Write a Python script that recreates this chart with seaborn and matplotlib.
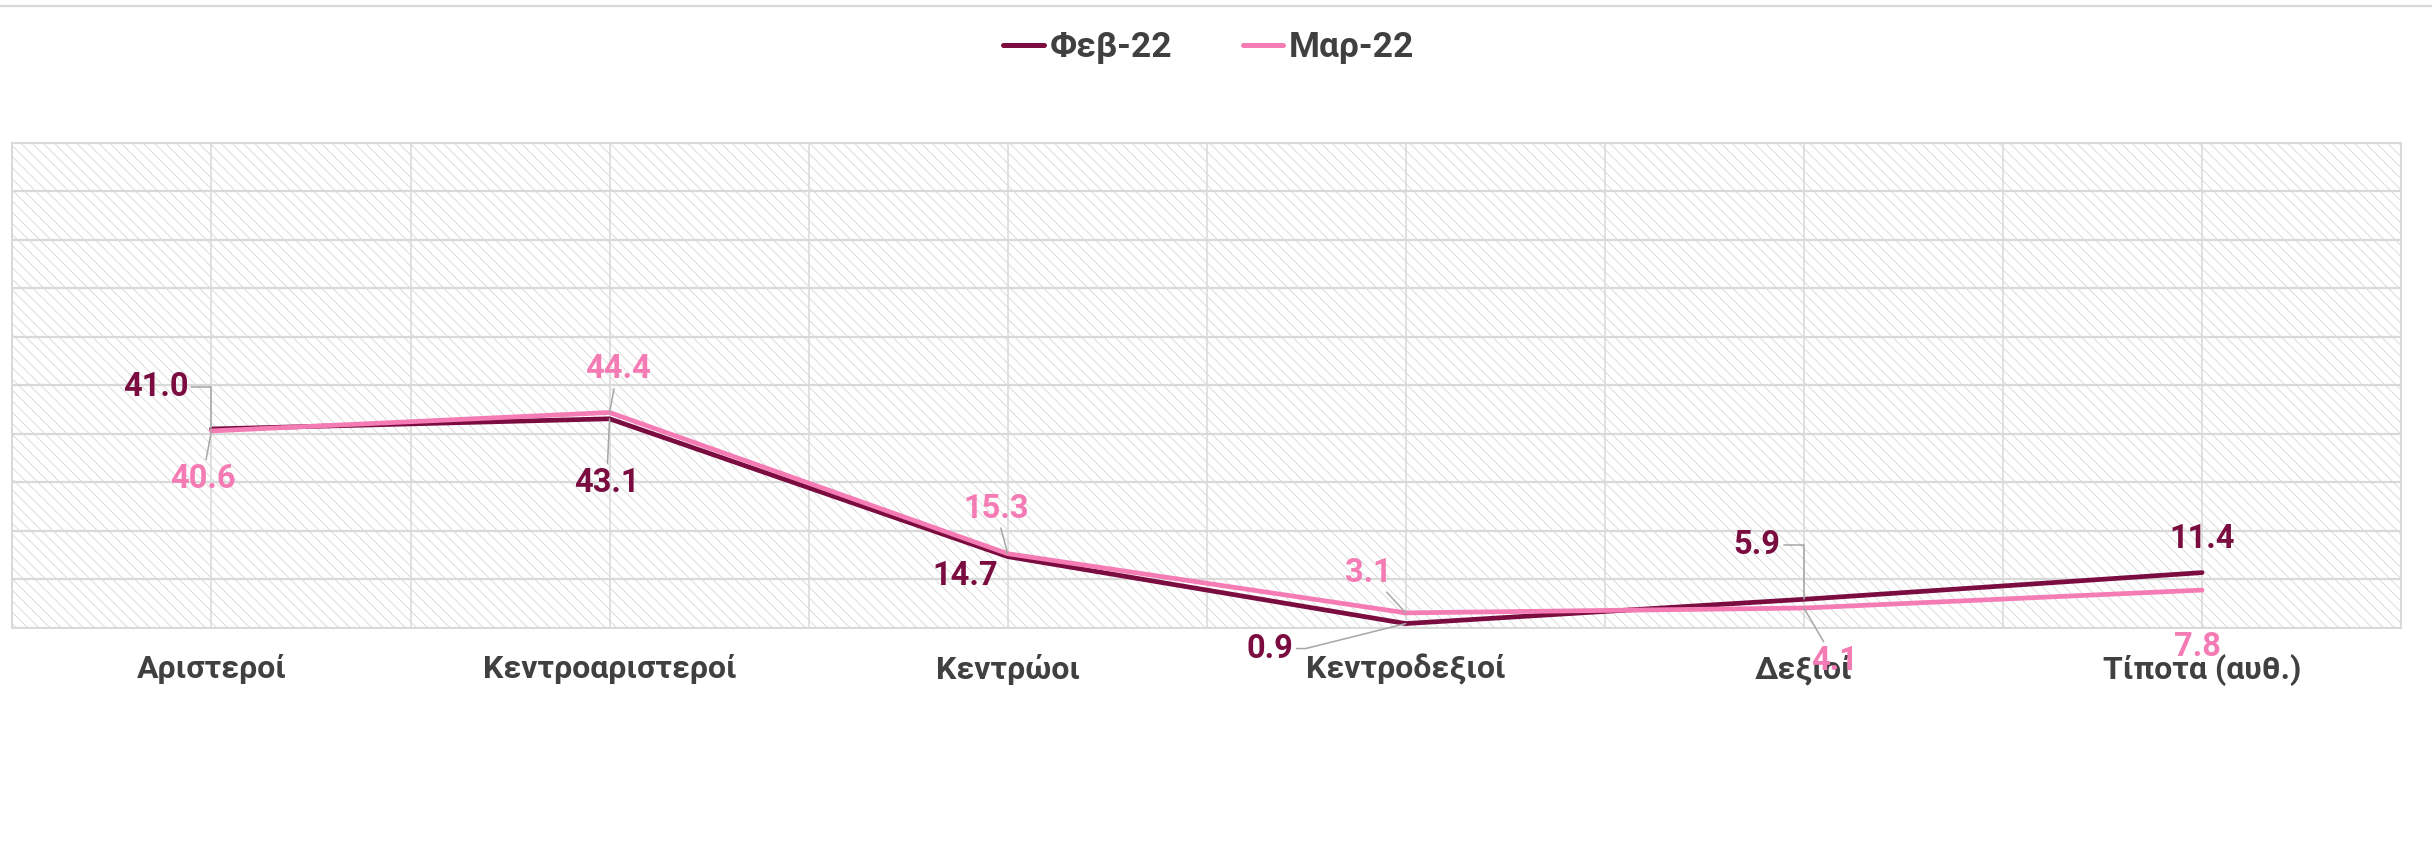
import matplotlib
matplotlib.use("Agg")
import matplotlib.pyplot as plt
from matplotlib.lines import Line2D
from matplotlib.patches import Rectangle
from matplotlib.ticker import MultipleLocator
import pandas as pd
import seaborn as sns

# ---- data -------------------------------------------------------------
categories = ['Αριστεροί', 'Κεντροαριστεροί', 'Κεντρώοι',
              'Κεντροδεξιοί', 'Δεξιοί', 'Τίποτα (αυθ.)']
series_names = ['Φεβ-22', 'Μαρ-22']
feb_values = [41.0, 43.1, 14.7, 0.9, 5.9, 11.4]
mar_values = [40.6, 44.4, 15.3, 3.1, 4.1, 7.8]

# ---- styling ----------------------------------------------------------
colors = {'Φεβ-22': '#7a0c40', 'Μαρ-22': '#f47bb4'}
text_color = '#404040'
grid_color = '#d9d9d9'
leader_color = '#a6a6a6'

# label offsets (pixels) relative to each point and leader-line shape
feb_offsets = [(-56, 42), (-3, -64), (-43, -19), (-136, -25), (-47, 54), (0, 34)]
mar_offsets = [(-9, -48), (8, 43), (-12, 45), (-37, 40), (31, -53), (-5, -57)]
feb_leaders = ['angle,angleA=0,angleB=90,rad=0', 'arc3,rad=0', None,
               'angle,angleA=0,angleB=14,rad=0', 'angle,angleA=0,angleB=90,rad=0', None]
mar_leaders = ['arc3,rad=0', 'arc3,rad=0', 'arc3,rad=0', 'arc3,rad=0', 'arc3,rad=0', None]

sns.set_theme(style='white')
plt.rcParams['font.family'] = ['Roboto', 'DejaVu Sans']
plt.rcParams['hatch.linewidth'] = 0.6
plt.rcParams['hatch.color'] = '#d6d6d6'

df = pd.DataFrame({
    'category': categories * 2,
    'value': feb_values + mar_values,
    'series': [series_names[0]] * len(categories) + [series_names[1]] * len(categories),
})

fig = plt.figure(figsize=(24.32, 8.52), dpi=100)
ax = fig.add_axes([0.0051, 0.263, 0.9822, 0.5695])

# hatched plot background
ax.add_patch(Rectangle((0, 0), 1, 1, transform=ax.transAxes, facecolor='white',
                       edgecolor='#d6d6d6', hatch='\\\\\\', lw=0, zorder=0.1))

sns.lineplot(data=df, x='category', y='value', hue='series', hue_order=series_names,
             palette=colors, linewidth=3.4, sort=False, ax=ax, zorder=3)

ax.set_xlim(-0.5, len(categories) - 0.5)
ax.set_ylim(0, 100)
ax.set_yticks(range(0, 101, 10))
ax.set_yticklabels([])
ax.set_xticks(range(len(categories)))
ax.set_xticklabels(categories, fontsize=23, fontweight='semibold', color=text_color)
ax.xaxis.set_minor_locator(MultipleLocator(0.5))
ax.tick_params(axis='both', which='both', length=0)
ax.tick_params(axis='x', pad=19)
ax.set_xlabel('')
ax.set_ylabel('')
ax.set_axisbelow(True)
ax.grid(True, which='both', axis='x', color=grid_color, lw=1.1, zorder=0.5)
ax.grid(True, which='major', axis='y', color=grid_color, lw=1.6, zorder=0.5)
for sp in ax.spines.values():
    sp.set_color(grid_color)
    sp.set_linewidth(1.4)

# data labels with leader lines
def add_labels(values, offsets, leaders, color):
    for i, (v, off, conn) in enumerate(zip(values, offsets, leaders)):
        kw = {}
        if conn is not None:
            kw['arrowprops'] = dict(arrowstyle='-', color=leader_color, lw=1.1,
                                    shrinkA=0, shrinkB=0, connectionstyle=conn)
        ax.annotate(f'{v:.1f}', xy=(i, v), xytext=off, textcoords='offset pixels',
                    ha='center', va='center', fontsize=23.5, fontweight='semibold',
                    color=color, zorder=5, annotation_clip=False, **kw)

add_labels(feb_values, feb_offsets, feb_leaders, colors['Φεβ-22'])
add_labels(mar_values, mar_offsets, mar_leaders, colors['Μαρ-22'])

# legend at the top
handles, labels = ax.get_legend_handles_labels()
ax.get_legend().remove()
for h in handles:
    h.set_linewidth(3.6)
fig.legend(handles, labels, loc='center', bbox_to_anchor=(0.497, 0.944), ncol=2,
           frameon=False, handlelength=1.15, handletextpad=0.15, columnspacing=2.0,
           prop={'size': 25.5, 'weight': 'semibold'}, labelcolor=text_color)

# thin rule along the top edge
fig.add_artist(Line2D([0, 1], [1 - 6 / 852] * 2, transform=fig.transFigure,
                      color=grid_color, lw=1.6))

fig.savefig('out.png', dpi=100, facecolor='white')
